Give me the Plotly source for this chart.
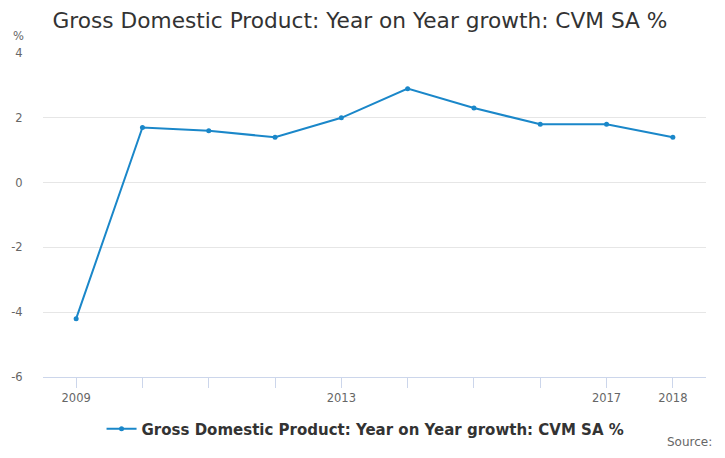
import plotly.graph_objects as go

years = ["2009", "2010", "2011", "2012", "2013", "2014", "2015", "2016", "2017", "2018"]
growth = [-4.2, 1.7, 1.6, 1.4, 2.0, 2.9, 2.3, 1.8, 1.8, 1.4]
shown_labels = ["2009", "", "", "", "2013", "", "", "", "2017", "2018"]
y_ticks = [-6, -4, -2, 0, 2, 4]
y_tick_text = ["-6", "-4", "-2", "0", "2", "4"]

series_name = "Gross Domestic Product: Year on Year growth: CVM SA %"
color = "#1a87c9"

fig = go.Figure()
fig.add_trace(go.Scatter(
    x=years, y=growth, mode="lines+markers", name=series_name,
    line=dict(color=color, width=2),
    marker=dict(color=color, size=5),
))

fig.update_layout(
    width=709, height=442,
    margin=dict(l=35, r=11, t=45, b=73, autoexpand=False),
    paper_bgcolor="white", plot_bgcolor="white",
    font=dict(family="DejaVu Sans", color="#666666", size=11),
    title=dict(text=series_name, x=0.4965, xanchor="center", y=0.973, yanchor="middle",
               font=dict(size=21.7, color="#333333", family="DejaVu Sans")),
    showlegend=True,
    legend=dict(orientation="h", x=0.4865, xanchor="center", yref="container", y=0.0475,
                yanchor="middle",
                font=dict(size=15, color="#333333", family="DejaVu Sans", weight="bold")),
    xaxis=dict(
        type="category", range=[-0.5, 9.5], automargin=False,
        tickmode="array", tickvals=years, ticktext=shown_labels,
        ticks="outside", ticklen=10, tickcolor="#ccd6eb", tickwidth=1,
        showline=True, linecolor="#ccd6eb", linewidth=1,
        showgrid=False, tickfont=dict(size=11.5, color="#666666"),
    ),
    yaxis=dict(
        range=[-6, 4], tickmode="array", tickvals=y_ticks, ticktext=y_tick_text,
        automargin=False,
        showgrid=True, gridcolor="#e6e6e6", gridwidth=1,
        zeroline=False, showline=False,
        ticks="outside", ticklen=17, tickcolor="rgba(0,0,0,0)",
        tickfont=dict(size=11.5, color="#666666"),
    ),
    annotations=[
        dict(text="%", xref="paper", yref="paper", x=-0.0377, y=1.052,
             xanchor="center", yanchor="middle", showarrow=False,
             font=dict(size=11.5, color="#666666")),
        dict(text="Source:", xref="paper", yref="paper", x=1.012, y=-0.2006,
             xanchor="right", yanchor="middle", showarrow=False,
             font=dict(size=12, color="#666666")),
    ],
)

fig.write_html("out.html")
